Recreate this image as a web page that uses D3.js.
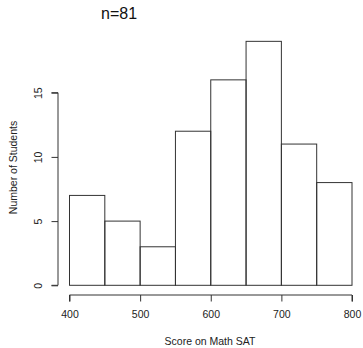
<!DOCTYPE html>
<html>
<head>
<meta charset="utf-8">
<script src="https://cdn.jsdelivr.net/npm/d3@7"></script>
<style>
  html, body { margin: 0; padding: 0; background: #fff; }
  svg { display: block; font-family: "Liberation Sans", Arial, sans-serif; }
</style>
</head>
<body>
<svg id="chart" width="363" height="348"></svg>
<script>
// Histogram of Math SAT scores, 50-point bins
const binStarts = [400, 450, 500, 550, 600, 650, 700, 750];
const binWidth = 50;
const counts = [7, 5, 3, 12, 16, 19, 11, 8];
const xTicks = [400, 500, 600, 700, 800];
const yTicks = [0, 5, 10, 15];
const titleText = "n=" + d3.sum(counts);
const xLabel = "Score on Math SAT";
const yLabel = "Number of Students";

const svg = d3.select("#chart");
const ink = "#333";

const x = d3.scaleLinear().domain([400, 800]).range([69.5, 352]);
const y = d3.scaleLinear().domain([0, 15]).range([285.3, 92.7]);

// bars
svg.append("g")
  .selectAll("rect")
  .data(binStarts.map((s, i) => ({ s, c: counts[i] })))
  .join("rect")
  .attr("x", d => x(d.s))
  .attr("y", d => y(d.c))
  .attr("width", d => x(d.s + binWidth) - x(d.s))
  .attr("height", d => y(0) - y(d.c))
  .attr("fill", "none")
  .attr("stroke", ink)
  .attr("stroke-width", 1);

// x axis (detached below the bars)
const xAxis = svg.append("g")
  .attr("transform", "translate(0,295)")
  .call(d3.axisBottom(x).tickValues(xTicks).tickSize(6.5).tickPadding(9).tickFormat(d3.format("d")));
xAxis.select(".domain").attr("stroke", ink).attr("d", `M${x(400)},6.5V0H${x(800)}V6.5`);
xAxis.selectAll(".tick line").attr("stroke", ink);
xAxis.selectAll("text").attr("font-size", "10.5px").attr("fill", "#222").attr("font-family", null);

// y axis (detached left of the bars), rotated labels
const yAxis = svg.append("g")
  .attr("transform", "translate(58,0)")
  .call(d3.axisLeft(y).tickValues(yTicks).tickSize(6.5).tickFormat(d3.format("d")));
yAxis.select(".domain").attr("stroke", ink).attr("d", `M-6.5,${y(0)}H0V${y(15)}H-6.5`);
yAxis.selectAll(".tick line").attr("stroke", ink);
yAxis.selectAll("text")
  .attr("font-size", "10.5px").attr("fill", "#222").attr("font-family", null)
  .attr("x", 0).attr("dy", null)
  .attr("text-anchor", "middle")
  .attr("transform", "translate(-19,0) rotate(-90)")
  .attr("dominant-baseline", "middle");

// title
svg.append("text")
  .attr("x", 101).attr("y", 19)
  .attr("font-size", "16px").attr("fill", "#111")
  .text(titleText);

// axis titles
svg.append("text")
  .attr("x", 210).attr("y", 345)
  .attr("text-anchor", "middle")
  .attr("font-size", "10.5px").attr("fill", "#222")
  .text(xLabel);

svg.append("text")
  .attr("transform", "translate(17,167.5) rotate(-90)")
  .attr("text-anchor", "middle")
  .attr("font-size", "10.5px").attr("fill", "#222")
  .text(yLabel);
</script>
</body>
</html>
